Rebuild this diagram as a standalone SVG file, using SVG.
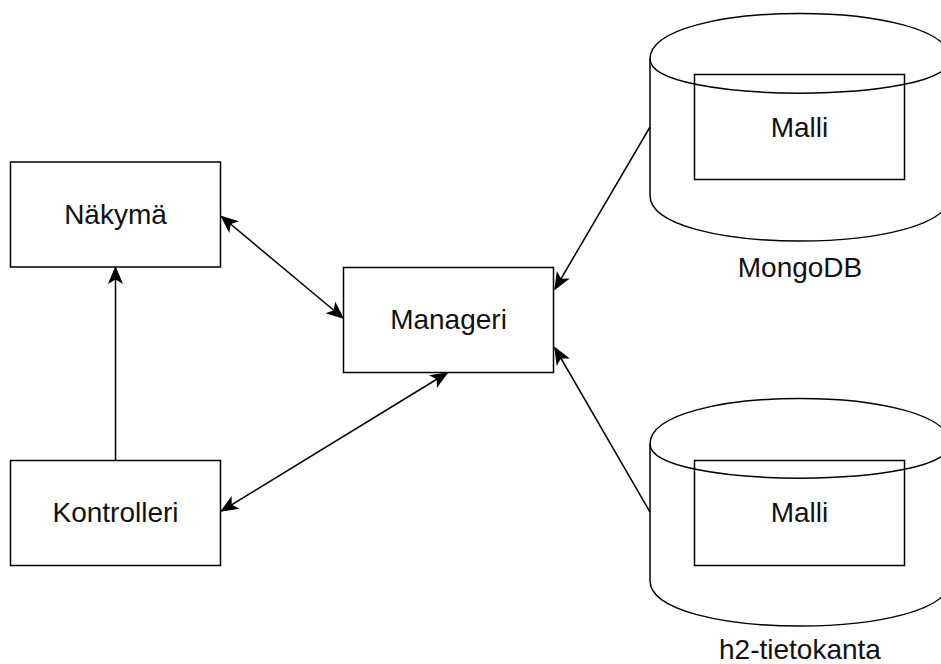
<svg xmlns="http://www.w3.org/2000/svg" width="941" height="664" viewBox="0 0 941 664">
<style>
.box{fill:#fff;stroke:#000;stroke-width:1.5}
.inner{fill:none;stroke:#000;stroke-width:1.5}
.cyl{fill:#fff;stroke:#000;stroke-width:1.5}
.lbl{font-family:"Liberation Sans",Arial,sans-serif;font-size:28px;fill:#111;text-anchor:middle}
.edge{fill:none;stroke:#000;stroke-width:1.5}
</style>
<defs>
<marker id="arr" markerUnits="userSpaceOnUse" markerWidth="20" markerHeight="20" refX="0" refY="0" viewBox="-14 -7 16 14" orient="auto-start-reverse" overflow="visible">
<path d="M0,0 L-12,-5 L-9,0 L-12,5 Z" fill="#000" stroke="#000" stroke-width="1"/>
</marker>
</defs>
<rect width="941" height="664" fill="#fff"/>
<g id="nakyma">
<rect class="box" x="10.5" y="162" width="210" height="105"/>
<text class="lbl" x="115.5" y="224">Näkymä</text>
</g>
<g id="kontrolleri">
<rect class="box" x="10.5" y="460.5" width="210" height="105"/>
<text class="lbl" x="115.5" y="522">Kontrolleri</text>
</g>
<g id="manageri">
<rect class="box" x="343.5" y="267.5" width="210" height="105"/>
<text class="lbl" x="448.5" y="329">Manageri</text>
</g>
<g id="mongodb">
<path class="cyl" d="M650,59 C650,-1.7 950,-1.7 950,59 L950,195.5 C950,256.2 650,256.2 650,195.5 Z"/>
<path class="inner" d="M650,59 C650,104.5 950,104.5 950,59"/>
<rect class="inner" x="694.5" y="74.5" width="210" height="105"/>
<text class="lbl" x="799.5" y="136.5">Malli</text>
<text class="lbl" x="800" y="277">MongoDB</text>
</g>
<g id="h2">
<path class="cyl" d="M650,444 C650,383.3 950,383.3 950,444 L950,580.5 C950,641.2 650,641.2 650,580.5 Z"/>
<path class="inner" d="M650,444 C650,489.5 950,489.5 950,444"/>
<rect class="inner" x="694.5" y="460.5" width="210" height="105"/>
<text class="lbl" x="799.5" y="522">Malli</text>
<text class="lbl" x="800" y="659">h2-tietokanta</text>
</g>
<g id="connectors">
<path class="edge" d="M221.5,216.5 L343,318" marker-start="url(#arr)" marker-end="url(#arr)"/>
<path class="edge" d="M221.5,511 L447,373" marker-start="url(#arr)" marker-end="url(#arr)"/>
<path class="edge" d="M115.5,460.5 L115.5,267.5" marker-end="url(#arr)"/>
<path class="edge" d="M650,127 L555,289" marker-end="url(#arr)"/>
<path class="edge" d="M650,512 L555,348" marker-end="url(#arr)"/>
</g>
</svg>
